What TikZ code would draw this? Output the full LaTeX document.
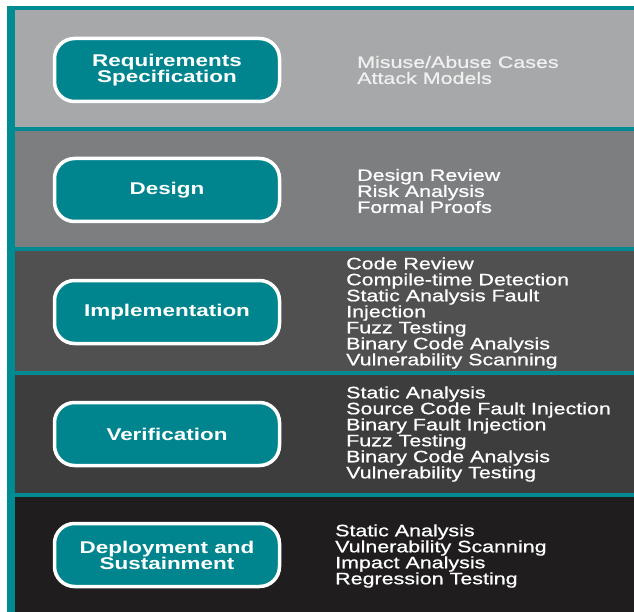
\documentclass[tikz,border=0pt]{standalone}
\usepackage{fontspec}
\setmainfont{Liberation Sans}[FakeStretch=1.32]
\newfontfamily\itemfont{Liberation Sans}[FakeStretch=1.30,FakeBold=0.8]
\definecolor{frameteal}{HTML}{008A92}
\definecolor{boxteal}{HTML}{00858E}
\definecolor{bandA}{HTML}{A7A8AA}
\definecolor{bandB}{HTML}{7D7E80}
\definecolor{bandC}{HTML}{505051}
\definecolor{bandD}{HTML}{3D3D3E}
\definecolor{bandE}{HTML}{1F1D1D}
\tikzset{
  phase/.style={draw=white, line width=3.5pt, fill=boxteal, rounded corners=20pt,
    minimum width=225pt, minimum height=63pt, inner sep=0pt, align=center,
    text=white, font=\bfseries\fontsize{17}{16}\selectfont},
  items/.style={anchor=west, inner sep=0pt, align=left, text=white,
    font=\itemfont\fontsize{16.5}{16}\selectfont}
}
\begin{document}
\begin{tikzpicture}[x=1pt,y=-1pt]
\useasboundingbox (0,0) rectangle (634,612);
\fill[white] (0,0) rectangle (634,612);
\fill[frameteal] (7,6) rectangle (634,612);
\fill[bandA] (15,10.5) rectangle (634,127);
\fill[bandB] (15,131) rectangle (634,247);
\fill[bandC] (15,251) rectangle (634,371);
\fill[bandD] (15,375) rectangle (634,493);
\fill[bandE] (15,497) rectangle (634,612);

\node[phase] (req) at (167,70) {Requirements\\Specification};
\node[phase] (des) at (167,190) {Design};
\node[phase] (imp) at (167,312) {Implementation};
\node[phase] (ver) at (167,434) {Verification};
\node[phase] (dep) at (167,555) {Deployment and\\Sustainment};

\node[items, text=white!94!black] (reqi) at (357,70) {Misuse/Abuse Cases\\Attack Models};
\node[items] (desi) at (357,191) {Design Review\\Risk Analysis\\Formal Proofs};
\node[items] (impi) at (346,313) {Code Review\\Compile-time Detection\\Static Analysis Fault\\Injection\\Fuzz Testing\\Binary Code Analysis\\Vulnerability Scanning};
\node[items] (veri) at (346,434) {Static Analysis\\Source Code Fault Injection\\Binary Fault Injection\\Fuzz Testing\\Binary Code Analysis\\Vulnerability Testing};
\node[items] (depi) at (335,556) {Static Analysis\\Vulnerability Scanning\\Impact Analysis\\Regression Testing};
\end{tikzpicture}
\end{document}
